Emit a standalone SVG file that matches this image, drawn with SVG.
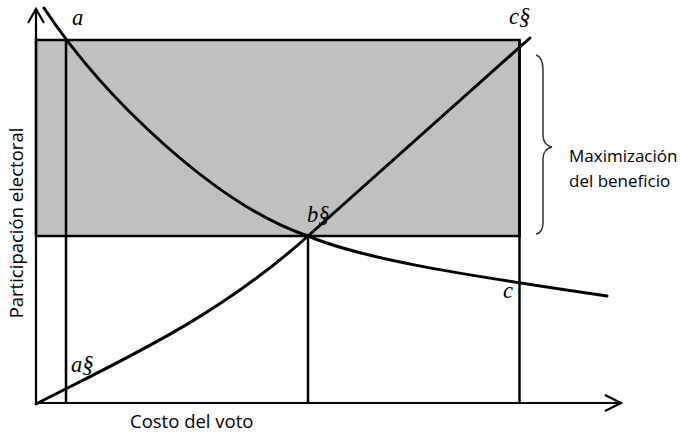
<svg xmlns="http://www.w3.org/2000/svg" width="680" height="432" viewBox="0 0 680 432">
<style>
.frame{fill:none;stroke:#000;stroke-width:2.5}
.area{fill:#c0c0c0;stroke:#000;stroke-width:2.5}
.axis{fill:none;stroke:#000;stroke-width:2.2}
.curve{fill:none;stroke:#000;stroke-width:3;stroke-linecap:round}
.lbl{font-family:"Liberation Serif",serif;font-style:italic;font-size:22.5px;fill:#000}
.txt{font-family:"Open Sans","DejaVu Sans",sans-serif;font-size:17px;fill:#000}
</style>
<rect width="680" height="432" fill="#fff"/>
<g id="region">
<rect x="36" y="40" width="483.5" height="196" class="area"/>
</g>
<g id="guides">
<line x1="66" y1="40" x2="66" y2="403" class="frame"/>
<line x1="308" y1="236" x2="308" y2="403" class="frame"/>
<line x1="519.5" y1="40" x2="519.5" y2="403" class="frame"/>
</g>
<g id="axes">
<line x1="36" y1="403" x2="36" y2="9" class="axis"/>
<polyline points="28,23 36,9 44,23" class="axis"/>
<line x1="36" y1="403" x2="621" y2="403" class="axis"/>
<polyline points="605,395 621,403 605,411" class="axis"/>
</g>
<g id="connectors">
<path id="curve-a" d="M44,8 C105,100 218,206 308,236 C360,258 450,273 607,296" class="curve"/>
<path id="curve-a2" d="M36,404 C126,358 218,317 308,236 L530,38" class="curve"/>
</g>
<g id="labels">
<text x="72" y="25" class="lbl">a</text>
<text x="509" y="24" class="lbl">c§</text>
<text x="307" y="222" class="lbl">b§</text>
<text x="503" y="298" class="lbl">c</text>
<text x="71" y="372" class="lbl">a§</text>
</g>
<g id="brace">
<path d="M536,55 Q543,57 543,70 L543,135 Q543,145 552,147 Q543,149 543,159 L543,222 Q543,233 536,234" fill="none" stroke="#333" stroke-width="1.5"/>
<text x="569" y="162" class="txt">Maximización</text>
<text x="569" y="187" class="txt">del beneficio</text>
</g>
<g id="axis-titles">
<text x="130" y="428" class="txt" style="font-size:18.5px">Costo del voto</text>
<text transform="translate(23,223) rotate(-90)" text-anchor="middle" class="txt" style="font-size:18.5px">Participación electoral</text>
</g>
</svg>
